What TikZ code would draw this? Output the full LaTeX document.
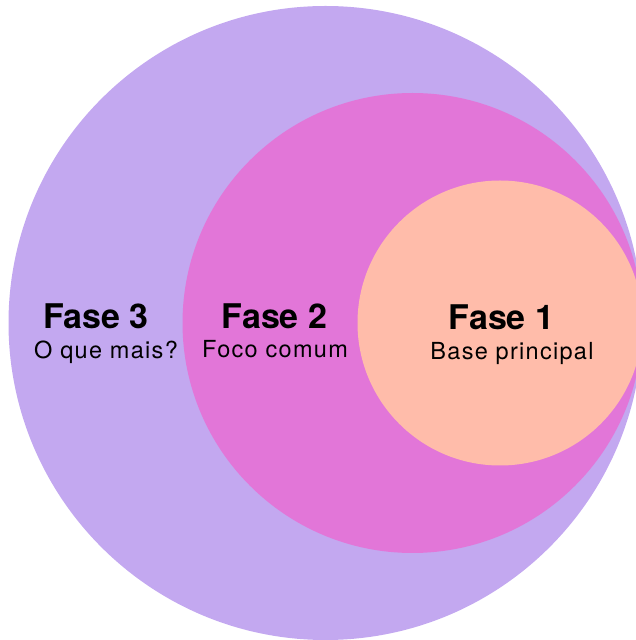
\documentclass[tikz,border=0pt]{standalone}
\usepackage{fontspec}
\setmainfont{TeX Gyre Heros}
\definecolor{lav}{HTML}{C3A8F0}
\definecolor{mag}{HTML}{E276D8}
\definecolor{peach}{HTML}{FFBCAA}
\tikzset{
  phase/.style={anchor=base, inner sep=0pt, font=\fontsize{34}{36}\selectfont\bfseries},
  sub/.style={anchor=base, inner sep=0pt, font=\fontsize{23.5}{26}\selectfont\addfontfeature{LetterSpace=5.5}},
}
\begin{document}
\begin{tikzpicture}[x=1pt,y=1pt]
\useasboundingbox (0,0) rectangle (636,640);
\clip (0,0) rectangle (636,640);
\fill[lav] (325.5,317) circle (317);
\fill[mag] (412.5,317) circle (230);
\fill[peach] (500,317) circle (142.5);
\node[phase] (f3) at (96,311) {Fase 3};
\node[sub] (s3) at (106,281) {O que mais?};
\node[phase] (f2) at (274.5,311) {Fase 2};
\node[sub] (s2) at (275,282) {Foco comum};
\node[phase] (f1) at (501.5,310) {Fase 1};
\node[sub] (s1) at (512,280) {Base principal};
\end{tikzpicture}
\end{document}
